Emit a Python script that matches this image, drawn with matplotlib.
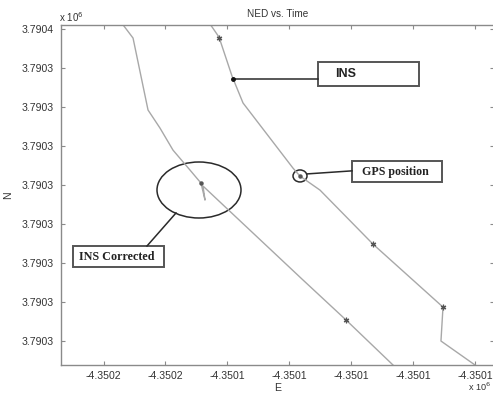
import matplotlib
matplotlib.use('Agg')
import matplotlib.pyplot as plt
from matplotlib.patches import Ellipse, Rectangle
from matplotlib.ticker import FuncFormatter

# INS trajectory (E, N in metres)
ins_e = [-4350152.44, -4350150.34, -4350148.24, -4350146.46, -4350138.39,
         -4350137.26, -4350134.02, -4350125.46, -4350114.15, -4350114.48,
         -4350108.98, -4350107.37]
ins_n = [3790352.06, 3790351.09, 3790349.09, 3790347.71, 3790344.37,
         3790343.96, 3790343.24, 3790340.47, 3790337.24, 3790335.50,
         3790334.27, 3790333.91]

# INS corrected trajectory
cor_e = [-4350166.66, -4350164.23, -4350161.81, -4350159.87, -4350157.77,
         -4350155.03, -4350153.25, -4350152.60, -4350152.93, -4350136.77,
         -4350129.82, -4350122.23, -4350121.42]
cor_n = [3790352.06, 3790351.04, 3790347.35, 3790346.42, 3790345.29,
         3790344.27, 3790343.60, 3790342.73, 3790343.45, 3790338.63,
         3790336.58, 3790334.27, 3790333.96]

# star markers along the tracks
star_e = [-4350150.34, -4350125.46, -4350114.15, -4350129.82]
star_n = [3790351.04, 3790340.47, 3790337.24, 3790336.58]

# GPS fixes
gps_e = [-4350137.26, -4350153.25]
gps_n = [3790343.96, 3790343.60]

x_ticks = [-4350169, -4350159, -4350149, -4350139, -4350129, -4350119, -4350109]
y_ticks = [3790351.5, 3790349.5, 3790347.5, 3790345.5, 3790343.5,
           3790341.5, 3790339.5, 3790337.5, 3790335.5]

plt.rcParams['font.family'] = 'Liberation Sans'
txt = '#333333'
spine = '#8a8a8a'

fig = plt.figure(figsize=(4.93, 3.94), dpi=100)
ax = fig.add_axes([61 / 493, 29 / 394, 433 / 493, 340 / 394])

ax.plot(ins_e, ins_n, color='#a8a8a8', lw=1.0)
ax.plot(cor_e, cor_n, color='#a8a8a8', lw=1.0)
ax.plot(star_e, star_n, ls='none', marker=(6, 2, 0), ms=4, mew=0.9, color='#555555')
ax.plot(gps_e, gps_n, ls='none', marker='o', ms=2.2, color='#555555')

ax.set_xlim(-4350175.87, -4350105.91)
ax.set_ylim(3790334.27, 3790351.71)
ax.set_xticks(x_ticks)
ax.set_yticks(y_ticks)
fmt = FuncFormatter(lambda v, pos: f'{v / 1e6:.4f}')
ax.xaxis.set_major_formatter(fmt)
ax.yaxis.set_major_formatter(fmt)
ax.tick_params(direction='in', length=3, width=0.8, colors=spine,
               labelcolor=txt, labelsize=7.6, top=True, right=True, pad=5)
ax.tick_params(axis='x', pad=4)
for s in ax.spines.values():
    s.set_color(spine)
    s.set_linewidth(1.0)

ax.set_title('NED vs. Time', fontsize=7.2, color=txt, pad=6)
ax.set_xlabel('E', fontsize=7.6, color=txt, labelpad=2)
ax.set_ylabel('N', fontsize=7.6, color=txt, labelpad=6)
ax.text(-0.005, 1.01, r'x 10$^6$', transform=ax.transAxes, fontsize=7, color=txt)
ax.text(0.993, -0.083, r'x 10$^6$', transform=ax.transAxes, fontsize=6.6, color=txt,
        ha='right', va='bottom', clip_on=False)

# annotations (axes fraction)
ac = '#2a2a2a'
T = ax.transAxes
ax.add_patch(Ellipse((0.3187, 0.5147), 0.194, 0.1647, transform=T, fill=False,
                     ec=ac, lw=1.1))
ax.add_patch(Ellipse((0.552, 0.556), 0.0323, 0.0353, transform=T, fill=False,
                     ec=ac, lw=1.1))
boxes = [((0.5935, 0.8206), 0.2333, 0.0704, 'INS', 'Liberation Sans', 9.0, 0.04),
         ((0.672, 0.538), 0.208, 0.062, 'GPS position', 'Liberation Serif', 8.6, 0.023),
         ((0.0277, 0.288), 0.2102, 0.062, 'INS Corrected', 'Liberation Serif', 8.7, 0.013)]
for (bx, by), bw, bh, label, fam, fs, dx in boxes:
    ax.add_patch(Rectangle((bx, by), bw, bh, transform=T, fill=False, ec='#555555',
                           lw=1.4, clip_on=False))
    ax.text(bx + dx, by + bh / 2, label, transform=T, family=fam, fontsize=fs,
            fontweight='bold', color='#222222', va='center', ha='left')

ax.plot([0.3972, 0.5935], [0.8412, 0.8412], transform=T, color=ac, lw=1.1,
        clip_on=False)
ax.plot([0.3972], [0.8412], transform=T, marker='o', ms=2.5, color='#111111')
ax.plot([0.568, 0.672], [0.562, 0.571], transform=T, color=ac, lw=1.1)
ax.plot([0.2656, 0.1986], [0.4471, 0.35], transform=T, color=ac, lw=1.1)

fig.savefig('out.png', dpi=100)
